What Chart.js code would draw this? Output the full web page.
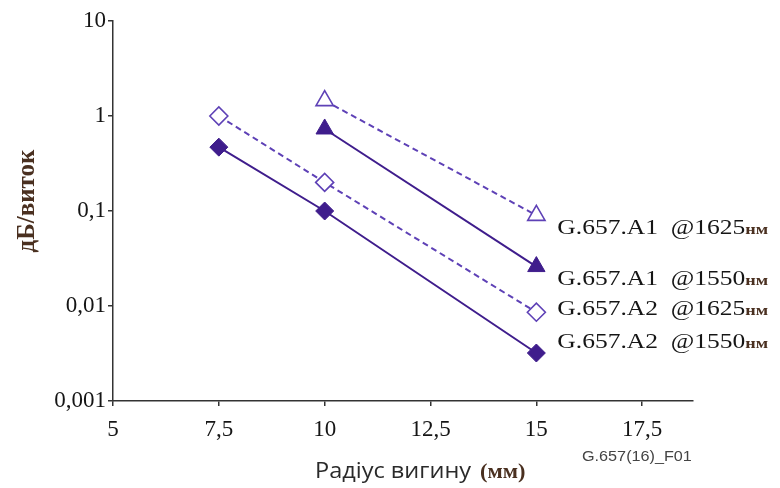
<!DOCTYPE html>
<html>
<head>
<meta charset="utf-8">
<script src="https://cdn.jsdelivr.net/npm/chart.js@4/dist/chart.umd.min.js"></script>
<style>
    html, body { margin: 0; padding: 0; background: #fff; }
    #wrap { width: 780px; height: 488px; }
</style>
</head>
<body>
<div id="wrap"><canvas id="bend-chart" width="780" height="488"></canvas></div>
<script>
// значення
const xTicks = [5, 7.5, 10, 12.5, 15, 17.5];
const xTickLabels = ['5', '7,5', '10', '12,5', '15', '17,5'];
const yTicks = [0.001, 0.01, 0.1, 1, 10];
const yTickLabels = ['0,001', '0,01', '0,1', '1', '10'];

const radiusA1 = [10, 15];
const radiusA2 = [7.5, 10, 15];
const a1at1625 = [1.45, 0.09];
const a1at1550 = [0.73, 0.026];
const a2at1625 = [1.0, 0.2, 0.0086];
const a2at1550 = [0.47, 0.1, 0.0032];

const seriesNames = ['G.657.A1  @1625', 'G.657.A1  @1550', 'G.657.A2  @1625', 'G.657.A2  @1550'];

const DARK = '#3f1d8c';
const LIGHT = '#5e41b6';
const serif = '"Liberation Serif", "DejaVu Serif", serif';

const toPoints = (xs, ys) => xs.map((x, i) => ({ x: x, y: ys[i] }));

// підписи праворуч від останньої точки (зсув по вертикалі від точки)
const labelShift = [19, 18, 3, -5];

const textPlugin = {
    id: 'bendText',
    afterDraw(chart) {
        const ctx = chart.ctx;
        const xs = chart.scales.x;
        const stretched = (txt, x, y, font, color, sx) => {
            ctx.save();
            ctx.font = font;
            ctx.fillStyle = color;
            ctx.textBaseline = 'alphabetic';
            ctx.translate(x, y);
            ctx.scale(sx, 1);
            ctx.fillText(txt, 0, 0);
            const w = ctx.measureText(txt).width * sx;
            ctx.restore();
            return w;
        };

        // підписи серій
        chart.data.datasets.forEach((ds, i) => {
            const meta = chart.getDatasetMeta(i);
            const last = meta.data[meta.data.length - 1];
            const x = xs.getPixelForValue(15) + 21;
            const y = last.y + labelShift[i];
            const w = stretched(seriesNames[i], x, y, '22px ' + serif, '#151515', 1.16);
            stretched('нм', x + w, y, 'bold 14px ' + serif, '#4a3020', 1.3);
        });

        // назва осі Y
        ctx.save();
        ctx.translate(34, 201);
        ctx.rotate(-Math.PI / 2);
        ctx.font = 'bold 25px ' + serif;
        ctx.fillStyle = '#4a3020';
        ctx.textAlign = 'center';
        ctx.fillText('дБ/виток', 0, 0);
        ctx.restore();

        // назва осі X
        const w1 = stretched('Радіус вигину', 315, 478, '21px "Open Sans", sans-serif', '#2a2a2a', 1.12);
        stretched('(мм)', 315 + w1 + 9, 478, 'bold 20px ' + serif, '#4a3020', 1.12);

        // номер рисунка
        stretched('G.657(16)_F01', 582, 461, '15px "Liberation Sans", sans-serif', '#444', 1.08);
    }
};

const datasets = [
    {
        label: seriesNames[0],
        data: toPoints(radiusA1, a1at1625),
        borderColor: LIGHT,
        borderDash: [6, 4],
        borderWidth: 2,
        pointStyle: 'triangle',
        pointRadius: 10,
        pointBorderWidth: 1.6,
        pointBackgroundColor: '#fff',
        pointBorderColor: LIGHT
    },
    {
        label: seriesNames[1],
        data: toPoints(radiusA1, a1at1550),
        borderColor: DARK,
        borderWidth: 2,
        pointStyle: 'triangle',
        pointRadius: 10,
        pointBorderWidth: 1,
        pointBackgroundColor: DARK,
        pointBorderColor: DARK
    },
    {
        label: seriesNames[2],
        data: toPoints(radiusA2, a2at1625),
        borderColor: LIGHT,
        borderDash: [6, 4],
        borderWidth: 2,
        pointStyle: 'rectRot',
        pointRadius: 9,
        pointBorderWidth: 1.6,
        pointBackgroundColor: '#fff',
        pointBorderColor: LIGHT
    },
    {
        label: seriesNames[3],
        data: toPoints(radiusA2, a2at1550),
        borderColor: DARK,
        borderWidth: 2,
        pointStyle: 'rectRot',
        pointRadius: 9,
        pointBorderWidth: 1,
        pointBackgroundColor: DARK,
        pointBorderColor: DARK
    }
];

new Chart(document.getElementById('bend-chart'), {
    type: 'line',
    data: { datasets: datasets },
    options: {
        responsive: false,
        animation: false,
        layout: { padding: { left: 0, top: 21, right: 87, bottom: 0 } },
        plugins: { legend: { display: false }, tooltip: { enabled: false } },
        scales: {
            x: {
                type: 'linear',
                min: 5,
                max: 18.7,
                afterBuildTicks: s => { s.ticks = xTicks.map(v => ({ value: v })); },
                afterFit: s => { s.height = 87; },
                ticks: {
                    color: '#151515',
                    font: { family: serif, size: 23 },
                    padding: 10,
                    maxRotation: 0,
                    callback: (v) => xTickLabels[xTicks.indexOf(v)] ?? ''
                },
                grid: { drawOnChartArea: false, drawTicks: true, tickLength: 5, color: '#333', lineWidth: 1.5 },
                border: { color: '#333', width: 1.5 }
            },
            y: {
                type: 'logarithmic',
                min: 0.001,
                max: 10,
                afterBuildTicks: s => { s.ticks = yTicks.map(v => ({ value: v })); },
                afterFit: s => { s.width = 113; },
                ticks: {
                    color: '#151515',
                    font: { family: serif, size: 23 },
                    padding: 2,
                    callback: (v) => yTickLabels[yTicks.indexOf(v)] ?? ''
                },
                grid: { drawOnChartArea: false, drawTicks: true, tickLength: 5, color: '#333', lineWidth: 1.5 },
                border: { color: '#333', width: 1.5 }
            }
        }
    },
    plugins: [textPlugin]
});
</script>
</body>
</html>
